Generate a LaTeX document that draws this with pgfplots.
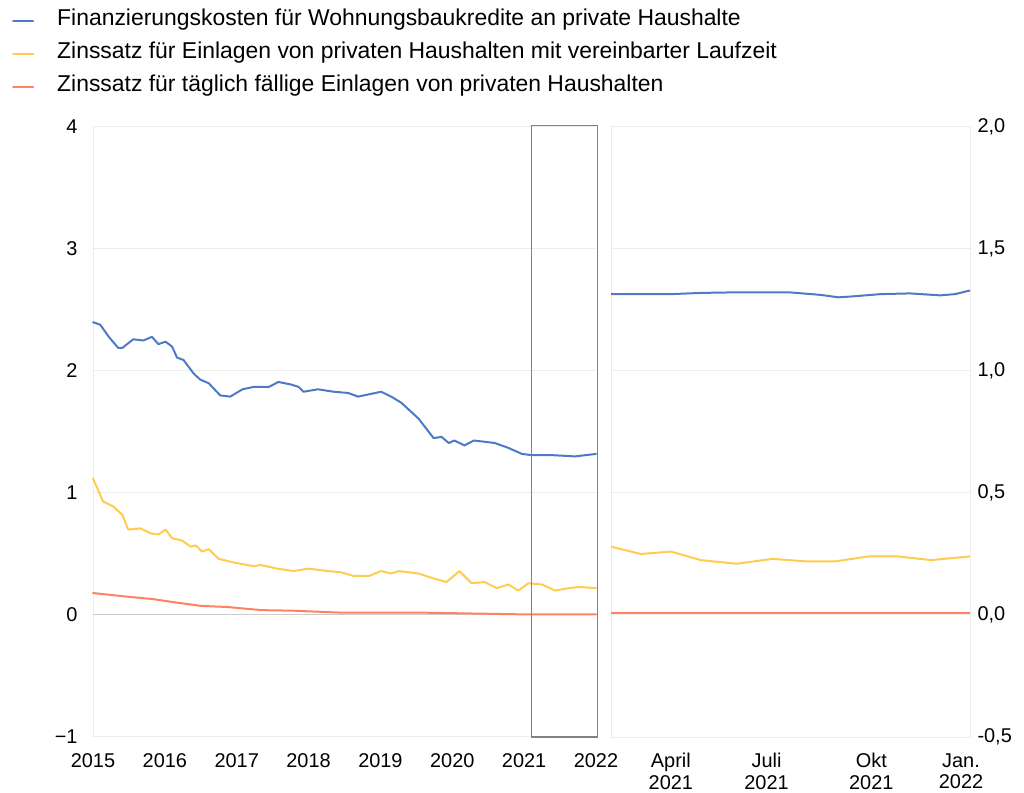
\documentclass[border=0pt]{standalone}
\usepackage{pgfplots}
\pgfplotsset{compat=1.18}
\usepackage{fontspec}
\setmainfont{Liberation Sans}
\definecolor{cblue}{RGB}{79,121,198}
\definecolor{cyellow}{RGB}{255,204,77}
\definecolor{cred}{RGB}{255,130,100}
\definecolor{gridc}{RGB}{236,236,236}
\definecolor{zeroc}{RGB}{205,205,205}
\definecolor{boxc}{RGB}{130,130,130}
\newcommand{\tickfont}{\fontsize{20}{21.5}\selectfont}
\pgfplotsset{every axis plot/.append style={line join=round, line cap=round}}
\begin{document}
\begin{tikzpicture}
\useasboundingbox (0,0) rectangle (1024bp,793bp);
\begin{axis}[
  at={(93bp,56bp)}, anchor=south west, scale only axis,
  width=503bp, height=610bp,
  xmin=2015, xmax=2022, ymin=-1, ymax=4,
  clip=false,
  axis line style={draw=none},
  major tick length=0pt,
  xtick={2015,2016,2017,2018,2019,2020,2021,2022},
  xticklabels={2015,2016,2017,2018,2019,2020,2021,2022},
  ytick={-1,0,1,2,3,4},
  yticklabels={−1,0,1,2,3,4},
  ymajorgrids, grid style={draw=gridc, line width=1bp},
  extra x ticks={2015}, extra x tick labels={},
  extra x tick style={grid=major},
  extra y ticks={0}, extra y tick labels={},
  extra y tick style={grid=major, major grid style={draw=zeroc, line width=1bp}},
  tick label style={font=\tickfont},
  xticklabel style={yshift=-13bp},
  yticklabel style={xshift=-12bp},
  legend style={at={(axis description cs:-0.161,1.197)}, anchor=north west,
    draw=none, fill=none, inner sep=0pt, row sep=11bp,
    font=\fontsize{23}{25}\selectfont},
  legend cell align=left,
  legend image code/.code={\draw[#1, line width=2bp] (0bp,-3bp) -- (20bp,-3bp); \path[draw=none] (0bp,0bp) -- (42bp,0bp);},
]
\addplot[cblue, line width=2bp] coordinates {
(2015.00,2.40) (2015.10,2.38) (2015.22,2.28) (2015.35,2.19) (2015.41,2.19)
(2015.56,2.26) (2015.70,2.25) (2015.82,2.28) (2015.91,2.22) (2016.01,2.24)
(2016.10,2.20) (2016.17,2.11) (2016.26,2.09) (2016.40,1.98) (2016.49,1.93)
(2016.61,1.90) (2016.77,1.80) (2016.91,1.79) (2017.08,1.85) (2017.24,1.87)
(2017.45,1.87) (2017.58,1.91) (2017.75,1.89) (2017.86,1.87) (2017.93,1.83)
(2018.13,1.85) (2018.35,1.83) (2018.55,1.82) (2018.69,1.79) (2018.85,1.81)
(2019.01,1.83) (2019.15,1.79) (2019.29,1.74) (2019.53,1.61) (2019.74,1.45)
(2019.85,1.46) (2019.95,1.41) (2020.03,1.43) (2020.17,1.39) (2020.30,1.43)
(2020.45,1.42) (2020.59,1.41) (2020.78,1.37) (2020.97,1.32) (2021.11,1.31)
(2021.40,1.31) (2021.71,1.30) (2021.85,1.31) (2022.00,1.32)};
\addlegendentry{Finanzierungskosten für Wohnungsbaukredite an private Haushalte}
\addplot[cyellow, line width=2bp] coordinates {
(2015.00,1.12) (2015.14,0.93) (2015.28,0.89) (2015.41,0.82) (2015.49,0.70)
(2015.66,0.71) (2015.80,0.67) (2015.91,0.66) (2016.01,0.70) (2016.10,0.63)
(2016.24,0.61) (2016.36,0.56) (2016.43,0.57) (2016.52,0.52) (2016.61,0.54)
(2016.75,0.46) (2016.96,0.43) (2017.24,0.40) (2017.33,0.41) (2017.57,0.38)
(2017.79,0.36) (2018.00,0.38) (2018.27,0.36) (2018.45,0.35) (2018.63,0.32)
(2018.84,0.32) (2019.01,0.36) (2019.15,0.34) (2019.26,0.36) (2019.53,0.34)
(2019.74,0.30) (2019.92,0.27) (2020.10,0.36) (2020.27,0.26) (2020.45,0.27)
(2020.62,0.22) (2020.78,0.25) (2020.92,0.20) (2021.06,0.26) (2021.25,0.25)
(2021.43,0.20) (2021.62,0.22) (2021.76,0.23) (2022.00,0.22)};
\addlegendentry{Zinssatz für Einlagen von privaten Haushalten mit vereinbarter Laufzeit}
\addplot[cred, line width=2bp] coordinates {
(2015.00,0.18) (2015.48,0.15) (2015.84,0.13) (2016.18,0.10) (2016.50,0.075)
(2016.88,0.065) (2017.34,0.04) (2017.80,0.035) (2018.42,0.02) (2019.00,0.02)
(2019.50,0.02) (2020.00,0.015) (2020.50,0.01) (2021.00,0.005) (2022.00,0.005)};
\addlegendentry{Zinssatz für täglich fällige Einlagen von privaten Haushalten}
\addplot[boxc, line width=1.2bp, forget plot, line cap=butt, line join=miter] coordinates {
(2021.1,-1) (2021.1,4.015) (2022.02,4.015) (2022.02,-1) (2021.1,-1)};
\end{axis}
\begin{axis}[
  at={(611bp,56bp)}, anchor=south west, scale only axis,
  width=359bp, height=610bp,
  xmin=0, xmax=12, ymin=-0.5, ymax=2.0,
  axis line style={draw=gridc, line width=1bp},
  major tick length=0pt,
  xtick={2,5.2,8.7,11.7},
  xticklabels={{April\\2021},{Juli\\2021},{Okt\\2021},{Jan.\\2022}},
  ytick={-0.5,0,0.5,1,1.5,2},
  yticklabels={{-0,5},{0,0},{0,5},{1,0},{1,5},{2,0}},
  yticklabel pos=right,
  ymajorgrids, grid style={draw=gridc, line width=1bp},
  tick label style={font=\tickfont},
  xticklabel style={yshift=-13bp, align=center},
  yticklabel style={xshift=4bp},
]
\addplot[cblue, line width=2bp] coordinates {
(0,1.315) (1,1.315) (2,1.315) (3,1.32) (4,1.322) (5,1.322) (6,1.322)
(7,1.312) (7.6,1.302) (8,1.305) (9,1.315) (10,1.318) (11,1.31) (11.5,1.315) (12,1.33)};
\addplot[cyellow, line width=2bp] coordinates {
(0,0.28) (1,0.25) (2,0.26) (3,0.225) (4.2,0.21) (5.4,0.23) (6.5,0.22)
(7.5,0.22) (8.6,0.24) (9.6,0.24) (10.7,0.225) (12,0.24)};
\addplot[cred, line width=2bp] coordinates {
(0,0.008) (6,0.008) (12,0.008)};
\end{axis}
\end{tikzpicture}
\end{document}
